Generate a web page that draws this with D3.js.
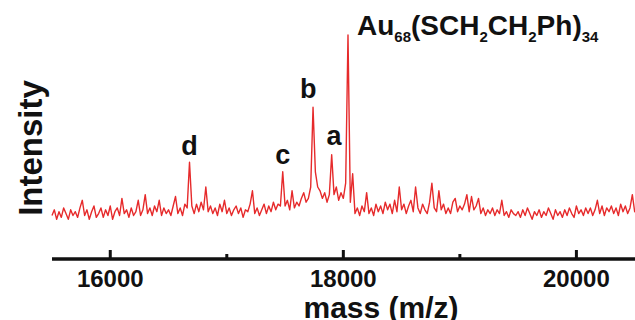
<!DOCTYPE html>
<html>
<head>
<meta charset="utf-8">
<script src="https://cdn.jsdelivr.net/npm/d3@7"></script>
<style>
  html, body { margin: 0; padding: 0; background: #fff; }
  svg { display: block; }
  text { font-family: "Liberation Sans", Arial, sans-serif; font-weight: bold; fill: #111; }
</style>
</head>
<body>
<svg id="chart" width="635" height="320"></svg>
<script>
// spectrum sampled every 20 Da starting at 15500
const massStart = 15500;
const massStep = 20;
const intensity = [
  5, 8, 3, 7, 4, 9, 6, 3, 8, 5,
  7, 4, 9, 13, 5, 8, 3, 7, 10, 4,
  6, 9, 4, 8, 5, 10, 3, 7, 9, 5,
  14, 6, 8, 4, 9, 5, 7, 13, 5, 8,
  16, 6, 9, 5, 10, 7, 13, 5, 9, 6,
  8, 5, 10, 15, 6, 9, 5, 11, 9, 33,
  10, 6, 11, 7, 12, 8, 20, 7, 10, 6,
  9, 5, 11, 7, 13, 6, 9, 5, 8, 10,
  6, 9, 4, 8, 7, 11, 18, 6, 9, 5,
  8, 11, 6, 10, 7, 12, 8, 11, 10, 28,
  10, 13, 8, 18, 9, 12, 10, 14, 17, 12,
  14, 20, 62, 28, 20, 18, 14, 17, 12, 16,
  37, 16, 20, 13, 17, 14, 22, 100, 12, 27,
  6, 9, 5, 10, 7, 17, 6, 9, 5, 11,
  7, 10, 6, 12, 8, 11, 6, 13, 7, 20,
  8, 11, 6, 10, 13, 7, 20, 9, 6, 11,
  8, 6, 12, 22, 9, 7, 18, 8, 11, 6,
  9, 6, 12, 14, 7, 10, 8, 11, 16, 7,
  15, 8, 10, 14, 6, 9, 5, 8, 6, 9,
  5, 8, 6, 13, 5, 7, 4, 8, 6, 5,
  7, 4, 8, 5, 9, 6, 3, 7, 5, 8,
  4, 7, 5, 9, 6, 3, 8, 5, 7, 4,
  8, 5, 9, 6, 4, 10, 6, 8, 5, 9,
  6, 9, 5, 8, 13, 6, 10, 5, 9, 7,
  10, 6, 9, 5, 11, 7, 10, 6, 9, 16, 7, 9
];

const majorTicks = [16000, 18000, 20000];
const minorTicks = [17000, 19000];

// peak letters: mass and intensity where the label sits
const peakLabels = ["d", "c", "b", "a"];
const peakMasses = [16680, 17480, 17700, 17920];
const peakLabelLevels = [37, 32, 67, 42];

const svg = d3.select("#chart");
const width = 635, height = 320;

const x = d3.scaleLinear().domain([15500, 20520]).range([52, 637]);
const y = d3.scaleLinear().domain([0, 100]).range([225, 35]);

const data = intensity.map((v, i) => ({ m: massStart + i * massStep, v: v }));

const line = d3.line()
  .x(d => x(d.m))
  .y(d => y(d.v));

svg.append("path")
  .datum(data)
  .attr("d", line)
  .attr("fill", "none")
  .attr("stroke", "#e62a2b")
  .attr("stroke-width", 1.4)
  .attr("stroke-linejoin", "round");

// x axis: heavy line with ticks pointing up
const axisY = 259;
svg.append("line")
  .attr("x1", 52).attr("x2", width)
  .attr("y1", axisY).attr("y2", axisY)
  .attr("stroke", "#111").attr("stroke-width", 3.5);

svg.selectAll(".major")
  .data(majorTicks)
  .enter().append("line")
  .attr("x1", d => x(d)).attr("x2", d => x(d))
  .attr("y1", axisY).attr("y2", axisY - 9)
  .attr("stroke", "#111").attr("stroke-width", 3);

svg.selectAll(".minor")
  .data(minorTicks)
  .enter().append("line")
  .attr("x1", d => x(d)).attr("x2", d => x(d))
  .attr("y1", axisY).attr("y2", axisY - 5)
  .attr("stroke", "#111").attr("stroke-width", 3);

svg.selectAll(".tlabel")
  .data(majorTicks)
  .enter().append("text")
  .attr("x", d => x(d))
  .attr("y", 287)
  .attr("text-anchor", "middle")
  .style("font-size", "24px")
  .text(d => d);

svg.append("text")
  .attr("x", 381)
  .attr("y", 318)
  .attr("text-anchor", "middle")
  .style("font-size", "30px")
  .text("mass (m/z)");

svg.append("text")
  .attr("transform", "translate(42,148) rotate(-90)")
  .attr("text-anchor", "middle")
  .style("font-size", "33px")
  .text("Intensity");

svg.selectAll(".plabel")
  .data(peakLabels)
  .enter().append("text")
  .attr("x", (d, i) => x(peakMasses[i]))
  .attr("y", (d, i) => y(peakLabelLevels[i]))
  .attr("text-anchor", "middle")
  .style("font-size", "27px")
  .text(d => d);

// compound name with subscripts
const title = svg.append("text")
  .attr("x", 357)
  .attr("y", 35)
  .style("font-size", "28px");
const parts = [["Au", 0], ["68", 1], ["(SCH", 0], ["2", 1], ["CH", 0], ["2", 1], ["Ph)", 0], ["34", 1]];
parts.forEach(p => {
  title.append("tspan")
    .attr("dy", p[1] ? 7 : -7)
    .style("font-size", p[1] ? "15px" : "28px")
    .text(p[0]);
});
// first tspan should start on baseline
title.select("tspan").attr("dy", 0);
</script>
</body>
</html>
